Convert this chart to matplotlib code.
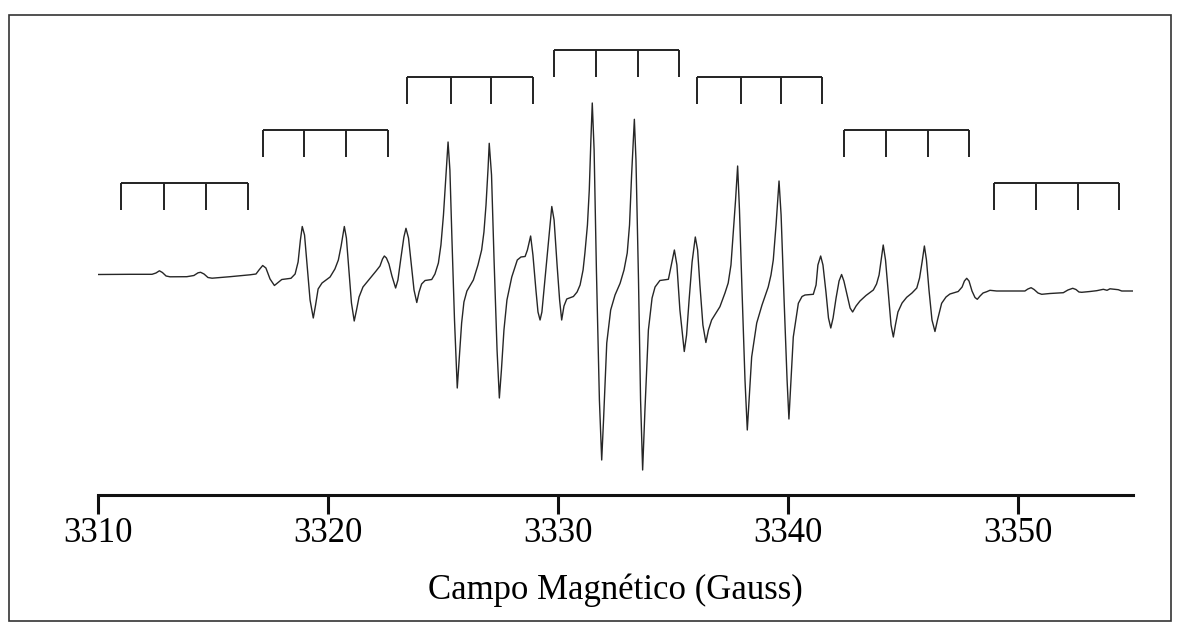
import matplotlib
matplotlib.use("Agg")
import matplotlib.pyplot as plt
from matplotlib.patches import Rectangle

# EPR spectrum trace: magnetic field (G) and first-derivative signal (a.u.)
field = [
    3310.00, 3311.39, 3312.35, 3312.52, 3312.67, 3312.80, 3312.96, 3313.13, 3313.86, 3314.17,
    3314.35, 3314.46, 3314.61, 3314.78, 3314.96, 3315.74, 3316.61, 3316.87, 3317.00, 3317.16,
    3317.30, 3317.48, 3317.67, 3317.83, 3317.99, 3318.39, 3318.57, 3318.70, 3318.80, 3318.88,
    3318.98, 3319.09, 3319.22, 3319.36, 3319.46, 3319.57, 3319.74, 3320.09, 3320.30, 3320.45,
    3320.57, 3320.71, 3320.80, 3320.91, 3321.02, 3321.14, 3321.24, 3321.35, 3321.52, 3321.83,
    3322.09, 3322.26, 3322.37, 3322.45, 3322.54, 3322.65, 3322.78, 3322.94, 3323.04, 3323.17,
    3323.30, 3323.39, 3323.50, 3323.61, 3323.74, 3323.86, 3323.96, 3324.07, 3324.22, 3324.51,
    3324.65, 3324.80, 3324.91, 3325.02, 3325.13, 3325.22, 3325.30, 3325.39, 3325.50, 3325.62,
    3325.70, 3325.81, 3325.91, 3326.04, 3326.32, 3326.52, 3326.68, 3326.78, 3326.87, 3326.96,
    3327.01, 3327.11, 3327.22, 3327.35, 3327.45, 3327.54, 3327.65, 3327.78, 3327.99, 3328.23,
    3328.39, 3328.57, 3328.67, 3328.81, 3328.91, 3329.04, 3329.13, 3329.22, 3329.30, 3329.43,
    3329.59, 3329.73, 3329.83, 3329.96, 3330.07, 3330.16, 3330.26, 3330.38, 3330.67, 3330.83,
    3330.96, 3331.09, 3331.17, 3331.28, 3331.36, 3331.43, 3331.49, 3331.57, 3331.67, 3331.80,
    3331.90, 3331.98, 3332.12, 3332.29, 3332.48, 3332.70, 3332.87, 3333.01, 3333.11, 3333.20,
    3333.32, 3333.39, 3333.50, 3333.59, 3333.68, 3333.78, 3333.93, 3334.09, 3334.22, 3334.43,
    3334.80, 3334.91, 3335.06, 3335.17, 3335.30, 3335.49, 3335.59, 3335.70, 3335.83, 3335.97,
    3336.07, 3336.17, 3336.30, 3336.43, 3336.54, 3336.68, 3337.04, 3337.26, 3337.40, 3337.52,
    3337.62, 3337.72, 3337.81, 3337.89, 3338.00, 3338.13, 3338.23, 3338.32, 3338.42, 3338.64,
    3338.87, 3339.14, 3339.26, 3339.36, 3339.48, 3339.61, 3339.70, 3339.83, 3339.96, 3340.04,
    3340.13, 3340.23, 3340.45, 3340.61, 3340.74, 3341.10, 3341.22, 3341.30, 3341.42, 3341.52,
    3341.65, 3341.76, 3341.86, 3341.96, 3342.09, 3342.22, 3342.33, 3342.43, 3342.57, 3342.70,
    3342.81, 3342.96, 3343.13, 3343.39, 3343.71, 3343.85, 3343.96, 3344.04, 3344.14, 3344.24,
    3344.35, 3344.48, 3344.58, 3344.67, 3344.78, 3344.96, 3345.16, 3345.39, 3345.60, 3345.72,
    3345.83, 3345.93, 3346.02, 3346.13, 3346.26, 3346.39, 3346.50, 3346.68, 3346.87, 3347.04,
    3347.40, 3347.57, 3347.67, 3347.77, 3347.87, 3348.00, 3348.13, 3348.23, 3348.35, 3348.48,
    3348.64, 3348.78, 3349.07, 3350.30, 3350.43, 3350.57, 3350.70, 3350.87, 3351.03, 3351.39,
    3351.97, 3352.17, 3352.38, 3352.52, 3352.65, 3352.77, 3353.13, 3353.42, 3353.57, 3353.71,
    3353.87, 3354.00, 3354.36, 3354.51, 3355.00,
]
signal = [
    8.5, 8.7, 8.7, 10.0, 12.2, 10.5, 7.0, 6.2, 6.3, 7.5,
    10.2, 10.7, 9.0, 5.5, 4.8, 6.3, 8.2, 9.0, 13.0, 17.5,
    15.0, 4.0, -2.5, 0.5, 3.5, 4.7, 9.0, 21.0, 43.0, 56.5,
    48.0, 18.0, -17.0, -35.0, -22.0, -6.0, 0.0, 6.0, 14.0, 23.0,
    37.0, 56.5, 45.0, 13.0, -20.0, -38.0, -27.0, -14.0, -4.0, 4.7,
    12.0, 17.0, 24.0, 27.0, 25.0, 19.0, 7.0, -5.0, 3.0, 25.0,
    46.0, 54.7, 45.0, 21.0, -7.0, -19.5, -9.0, -1.0, 2.5, 3.5,
    9.0, 20.0, 38.0, 68.0, 108.0, 141.0, 113.0, 43.0, -37.0, -105.0,
    -77.0, -40.0, -19.0, -8.0, 3.0, 18.0, 33.0, 51.0, 78.0, 115.0,
    139.7, 108.0, 23.0, -67.0, -115.0, -87.0, -47.0, -17.0, 6.0, 23.0,
    26.0, 26.5, 33.0, 47.0, 28.0, -7.0, -29.0, -37.0, -29.0, 3.0,
    43.0, 76.5, 63.0, 18.0, -17.0, -37.0, -23.0, -16.0, -13.5, -9.0,
    -2.0, 13.0, 30.0, 58.0, 93.0, 143.0, 180.0, 133.0, 13.0, -117.0,
    -177.0, -137.0, -60.0, -27.0, -12.0, -0.3, 13.0, 30.0, 58.0, 108.0,
    163.7, 123.0, 3.0, -117.0, -187.0, -127.0, -47.0, -15.0, -4.0, 2.5,
    3.7, 16.0, 33.0, 18.0, -27.0, -68.5, -52.0, -17.0, 21.0, 46.0,
    33.0, -2.0, -42.0, -59.5, -47.0, -37.0, -23.7, -10.0, 0.0, 18.0,
    50.0, 83.0, 117.0, 73.0, -7.0, -97.0, -147.0, -112.0, -74.0, -40.0,
    -22.0, -4.0, 8.0, 23.0, 58.0, 102.0, 68.0, -17.0, -97.0, -136.0,
    -97.0, -54.0, -20.3, -13.5, -12.0, -11.3, -2.0, 18.0, 27.0, 18.0,
    -9.0, -35.0, -45.0, -35.0, -15.0, 2.0, 8.5, 2.0, -12.0, -25.0,
    -29.0, -23.0, -18.0, -12.5, -7.0, -1.0, 8.0, 21.0, 38.0, 23.0,
    -7.0, -42.0, -54.0, -42.0, -29.0, -20.0, -14.3, -10.0, -5.0, 5.0,
    21.0, 37.0, 23.0, -7.0, -37.0, -48.5, -37.0, -20.3, -14.0, -11.0,
    -8.5, -4.0, 2.0, 4.7, 2.0, -8.0, -14.5, -16.3, -13.0, -10.0,
    -8.7, -7.3, -8.0, -8.0, -6.0, -4.7, -6.5, -10.0, -11.3, -10.5,
    -9.7, -7.0, -5.3, -6.5, -9.0, -9.3, -8.5, -7.7, -7.0, -6.3,
    -7.3, -5.8, -6.7, -8.0, -8.0,
]
assert len(field) == len(signal)

# Hyperfine stick diagram: seven groups of four lines (G)
line_groups = [
    [3311.00, 3312.88, 3314.70, 3316.51],
    [3317.16, 3318.97, 3320.78, 3322.60],
    [3323.45, 3325.35, 3327.09, 3328.90],
    [3329.83, 3331.65, 3333.47, 3335.27],
    [3336.06, 3337.94, 3339.70, 3341.48],
    [3342.43, 3344.25, 3346.07, 3347.88],
    [3348.96, 3350.77, 3352.60, 3354.41],
]
group_levels = [100, 153, 206, 233, 206, 153, 100]
stick_len = 27

xticks = [3310, 3320, 3330, 3340, 3350]
xlabel = "Campo Magnético (Gauss)"

plt.rcParams["font.family"] = ["Liberation Serif", "DejaVu Serif"]

fig = plt.figure(figsize=(11.84, 6.32), dpi=100)
ax = fig.add_axes([98 / 1184, 137 / 632, 1035 / 1184, 455 / 632])

ax.plot(field, signal, color="#262626", lw=1.0,
        solid_joinstyle="round", solid_capstyle="round")

for lines, level in zip(line_groups, group_levels):
    ax.plot([lines[0], lines[-1]], [level, level], color="#222222", lw=1.4,
            solid_capstyle="butt")
    for pos in lines:
        ax.plot([pos, pos], [level, level - stick_len], color="#222222", lw=1.4,
                solid_capstyle="butt")

ax.set_xlim(3310, 3355)
ax.set_ylim(-212, 243)
ax.set_xticks(xticks)
ax.set_xticklabels([str(t) for t in xticks])
ax.set_yticks([])
for side in ("top", "left", "right"):
    ax.spines[side].set_visible(False)
ax.spines["bottom"].set_linewidth(2.2)
ax.spines["bottom"].set_color("#111111")
ax.tick_params(axis="x", direction="out", length=14, width=2.2, color="#111111",
               labelsize=25, pad=2)
ax.set_xlabel(xlabel, fontsize=25, labelpad=17)

fig.patches.append(Rectangle((9 / 1184, 11 / 632), 1162 / 1184, 606 / 632,
                             transform=fig.transFigure, fill=False,
                             edgecolor="#333333", lw=1.2))

fig.savefig("out.png", dpi=100)
